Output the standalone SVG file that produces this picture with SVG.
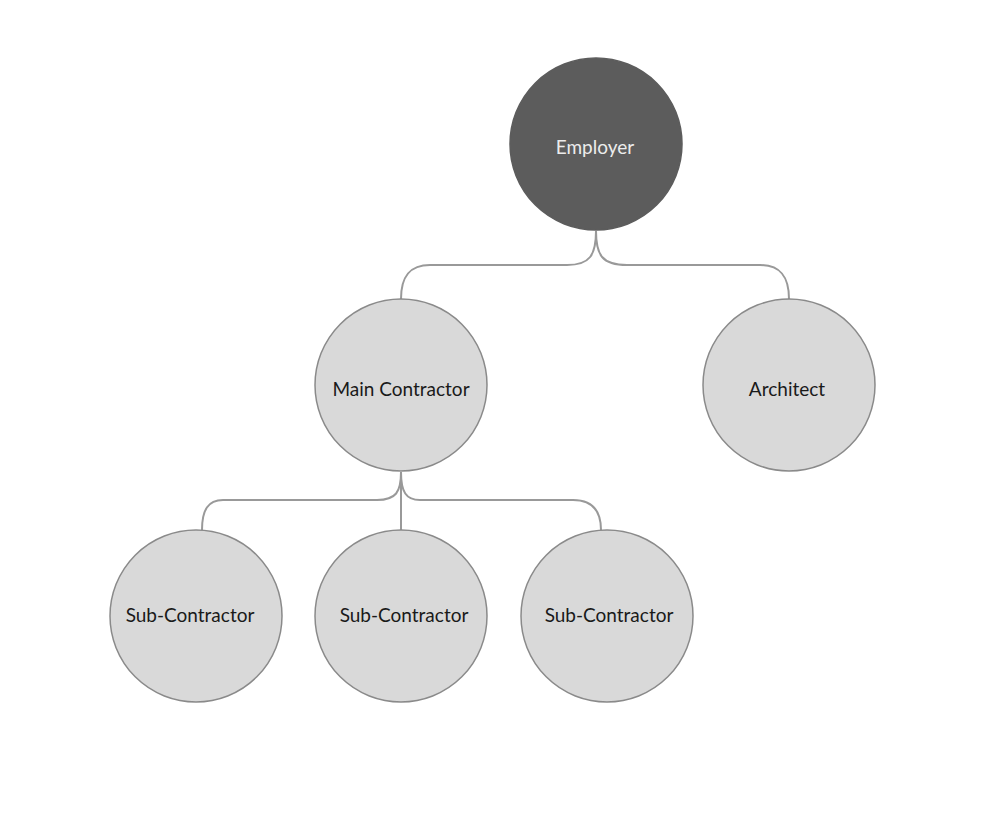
<svg xmlns="http://www.w3.org/2000/svg" width="982" height="822" viewBox="0 0 982 822">
<style>
.node{fill:#d9d9d9;stroke:#8a8a8a;stroke-width:1.5}
.dark{fill:#5c5c5c;stroke:#5c5c5c;stroke-width:1.5}
.lbl{font-family:Lato,"Open Sans",sans-serif;font-size:19px;fill:#1a1a1a;text-anchor:middle}
.lblw{font-family:Lato,"Open Sans",sans-serif;font-size:19px;fill:#ececec;text-anchor:middle}
.conn{fill:none;stroke:#999;stroke-width:2}
</style>
<rect width="982" height="822" fill="#fff"/>
<g id="connectors">
<path class="conn" d="M596,231 C596,255 590,265 567,265 L430,265 C410,265 401,276 401,299"/>
<path class="conn" d="M596,231 C596,255 602,265 627,265 L760,265 C780,265 789,276 789,299"/>
<path class="conn" d="M401,472 C401,492 396,500 377,500 L223,500 C208,500 202,510 202,530"/>
<path class="conn" d="M401,472 L401,530"/>
<path class="conn" d="M401,472 C401,492 406,500 420,500 L573,500 C592,500 601,510 601,530"/>
</g>
<g id="employer">
<circle class="dark" cx="596" cy="144" r="86"/>
<text class="lblw" x="595" y="154">Employer</text>
</g>
<g id="main-contractor">
<circle class="node" cx="401" cy="385" r="86"/>
<text class="lbl" x="401" y="396">Main Contractor</text>
</g>
<g id="architect">
<circle class="node" cx="789" cy="385" r="86"/>
<text class="lbl" x="787" y="396">Architect</text>
</g>
<g id="sub-contractor-1">
<circle class="node" cx="196" cy="616" r="86"/>
<text class="lbl" x="190" y="622">Sub-Contractor</text>
</g>
<g id="sub-contractor-2">
<circle class="node" cx="401" cy="616" r="86"/>
<text class="lbl" x="404" y="622">Sub-Contractor</text>
</g>
<g id="sub-contractor-3">
<circle class="node" cx="607" cy="616" r="86"/>
<text class="lbl" x="609" y="622">Sub-Contractor</text>
</g>
</svg>
